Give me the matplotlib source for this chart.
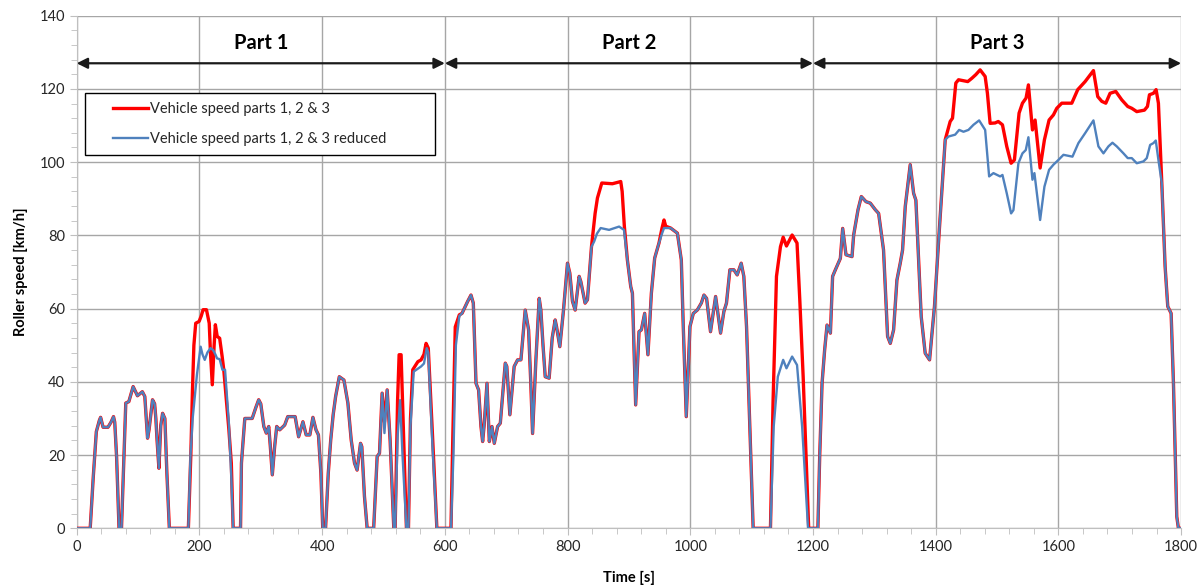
import matplotlib
matplotlib.use('Agg')
import matplotlib.pyplot as plt
from matplotlib.legend_handler import HandlerLine2D
from matplotlib.ticker import MultipleLocator

plt.rcParams['font.family'] = ['Lato', 'DejaVu Sans']

# speed trace, time [s] / speed [km/h]
red_t = [0, 22, 27, 32, 37, 39, 43, 51, 56, 60, 62, 65, 69, 73, 77, 80, 85, 92, 99, 107, 111, 115.5, 118,
         123.6, 127, 129, 131, 134, 137, 140, 143.7, 147, 151, 182, 186, 188.7, 191, 194, 199.5, 203, 206,
         211.5, 216, 218, 221, 224, 226, 229, 233, 237, 239.7, 244, 248, 252, 255, 267, 268.5, 274, 286,
         292, 296.6, 300, 305, 309, 313, 315.6, 318.8, 322.6, 326, 331, 339, 344, 356, 361.7, 368.7, 374,
         380, 385, 390, 394, 398, 401, 405.6, 410, 414, 418, 422, 428, 435.5, 442, 447.4, 452.8, 457,
         462.6, 464.7, 469, 473.4, 484, 489.7, 493.5, 497.8, 501.6, 506, 510.8, 516.8, 519, 523, 525.5,
         528.7, 531, 537.4, 540.7, 544, 547.7, 556, 561.3, 566, 569.4, 573, 580, 587,
         610, 613, 617, 623.6, 628, 637, 642.6, 646.4, 650.8, 655, 658.9, 661.6, 664, 668.7, 672.5, 676.8,
         680.6, 686, 690.4, 698.5, 701, 706, 713, 718.6, 724, 731, 736.5, 740, 743, 748.4, 753.8, 756.5,
         760, 763.6, 770, 775, 779.8, 782, 787.4, 793.4, 799.9, 803.7, 808, 812.4, 818.9, 821.6, 828.6,
         832.4, 839, 844.9, 848.7, 855.8, 873, 886.7, 889, 892.6, 897.5, 903, 905.7, 911, 916.5, 920.3,
         925.7, 931, 936.6, 942, 949, 954, 957.2, 960, 968, 979, 985.4, 988.6, 993.5, 999.5, 1005, 1011.4,
         1018, 1022.3, 1026.6, 1033, 1041.3, 1049.4, 1054.8, 1059, 1064.6, 1071, 1076.5, 1083, 1087.3,
         1091.7, 1097, 1102.5, 1130.7, 1135, 1140.5, 1147, 1151.4, 1156.8, 1166, 1174, 1178.5, 1184, 1193,
         1208, 1211, 1214.8, 1219, 1222.9, 1228.4, 1232, 1236.5, 1244.6, 1248.4, 1253.8, 1263.6, 1266.3,
         1273.4, 1278.8, 1286.4, 1293.4, 1301.6, 1307, 1315, 1321.6, 1326, 1331.4, 1336.8, 1342.2, 1346,
         1350.4, 1358.5, 1364, 1367.7, 1376.4, 1382.9, 1390, 1398, 1407.3, 1415.5, 1423.6, 1427.4, 1432.8,
         1437.2, 1452.3, 1458.9, 1465.4, 1472.4, 1480.6, 1484.3, 1488.7, 1496.8, 1502, 1508.8, 1515.8,
         1522.9, 1528.3, 1535.9, 1541.4, 1547.3, 1551.1, 1557.7, 1562, 1570.2, 1577.2, 1584.8, 1591.9,
         1597.3, 1605.5, 1621.8, 1631.5, 1643.5, 1657.1, 1664.1, 1670.7, 1677.2, 1684.2, 1693.5, 1703.3,
         1713, 1719.6, 1727.7, 1740.2, 1745.1, 1748.4, 1754.9, 1759.2, 1763, 1768.5, 1773.9, 1778.2,
         1783.7, 1787.5, 1792.9, 1795.6, 1800]
red_v = [0, 0, 14, 26.4, 29.5, 30.3, 27.6, 27.6, 29, 30.5, 29, 19.6, 0, 0, 20, 34.2, 34.6, 38.7, 36.2, 37.3,
         36, 24.6, 27, 35.1, 34, 30, 24, 16.4, 28, 31.4, 30, 15, 0, 0, 20, 37.8, 50, 56, 56.5, 58, 59.7,
         59.7, 56, 48, 39.2, 50, 55.6, 52.4, 51.9, 47, 43.3, 35, 27, 17.8, 0, 0, 17.8, 30, 30, 33, 35.1,
         34, 27.8, 26, 27.8, 22.3, 14.6, 22.3, 27.8, 26.9, 28.2, 30.5, 30.5, 25, 29.1, 25.5, 25.5, 30.3,
         26.9, 25.5, 15, 0, 0, 15, 24.1, 31, 36, 41.4, 40.5, 34.2, 24.1, 17.8, 15.9, 23.2, 22.3, 8.7, 0,
         0, 19.6, 20.5, 36.9, 29, 37.8, 24.1, 0, 0, 35, 47.4, 47.4, 35, 0, 0, 30, 43.3, 45.5, 46, 47.5,
         50.5, 49.2, 25, 0,
         0, 25, 55, 58.3, 58.7, 61.9, 63.7, 61.5, 39.6, 37.8, 27.8, 23.7, 28, 39.6, 23.7, 27.8, 23.2,
         27.8, 28.7, 45.1, 44.2, 31, 44.2, 46, 46, 59.6, 54.2, 40, 25.9, 46, 62.8, 59.6, 50, 41.4, 41,
         52, 56.9, 55.1, 49.6, 59.6, 72.4, 69.7, 62, 59.6, 68.8, 67.4, 61.5, 62.4, 76.9, 86, 90.2, 94.3,
         94.1, 94.7, 92, 82.4, 73.3, 66, 64.2, 33.7, 53.7, 54.2, 58.7, 47.4, 64.2, 73.8, 77.9, 82, 84.2,
         82.5, 82, 80.6, 73.3, 55.1, 30.5, 55.1, 58.7, 59.6, 61.5, 63.7, 62.8, 53.7, 63.3, 53.3, 59.2,
         61.5, 70.6, 70.6, 69.2, 72.4, 68.8, 55.1, 27.8, 0, 0, 35, 68.8, 76.9, 79.5, 77.1, 80.1, 77.9,
         62.4, 41.4, 0,
         0, 20, 39.6, 48.7, 55.5, 53.3, 68.8, 70.6, 73.7, 81.9, 74.7, 74.2, 80.1, 87, 90.6, 89.2, 88.8,
         87, 86, 76, 52.4, 50.5, 54.2, 67.8, 72.4, 76, 87.9, 99.3, 91.5, 89.6, 57.8, 47.8, 46, 60.6, 85.1,
         106.1, 111.1, 112, 121.6, 122.5, 122, 122.9, 123.9, 125.2, 123.4, 118.8, 110.6, 110.7, 111.1,
         110.2, 104.3, 99.7, 100.6, 113.4, 116.1, 117.5, 121.1, 108.8, 111.5, 98.4, 106.1, 111.5, 112.9,
         114.7, 116.1, 116.1, 119.8, 122, 125, 117.9, 116.6, 116.1, 118.8, 119.3, 117, 115.2, 114.7,
         113.8, 114.2, 115.2, 118.4, 118.8, 119.8, 116.1, 94.3, 71.5, 60.6, 58.7, 39.6, 3.2, 0, 0]

blue_t = [0, 22, 27, 32, 37, 39, 43, 51, 56, 60, 62, 65, 69, 73, 77, 80, 85, 92, 99, 107, 111, 115.5, 118,
          123.6, 127, 129, 131, 134, 137, 140, 143.7, 147, 151, 182, 185.4, 189, 192.5, 196, 202, 205,
          208.7, 213, 218, 222.3, 226, 228.8, 233, 237.5, 241.8, 244, 248, 252, 255, 267, 268.5, 274, 286,
          292, 296.6, 300, 305, 309, 313, 315.6, 318.8, 322.6, 326, 331, 339, 344, 356, 361.7, 368.7, 374,
          380, 385, 390, 394, 398, 401, 405.6, 410, 414, 418, 422, 428, 435.5, 442, 447.4, 452.8, 457,
          462.6, 464.7, 469, 473.4, 484, 489.7, 493.5, 497.8, 501.6, 506, 510.8, 516.8, 519, 523, 527,
          531, 537.4, 540.7, 544, 549.3, 561.3, 566, 570.5, 573, 580, 587,
          610, 614, 618, 623.6, 628, 637, 642.6, 646.4, 650.8, 655, 658.9, 661.6, 664, 668.7, 672.5, 676.8,
          680.6, 686, 690.4, 698.5, 701, 706, 713, 718.6, 724, 731, 736.5, 740, 743, 748.4, 753.8, 756.5,
          760, 763.6, 770, 775, 779.8, 782, 787.4, 793.4, 799.9, 803.7, 808, 812.4, 818.9, 821.6, 828.6,
          832.4, 839, 843.3, 848, 854, 867.7, 884, 892, 897.5, 903, 905.7, 911, 916.5, 920.3,
          925.7, 931, 936.6, 942, 949, 954, 957.2, 960, 968, 979, 985.4, 988.6, 993.5, 999.5, 1005, 1011.4,
          1018, 1022.3, 1026.6, 1033, 1041.3, 1049.4, 1054.8, 1059, 1064.6, 1071, 1076.5, 1083, 1087.3,
          1091.7, 1097, 1102.5, 1130.7, 1136, 1142.7, 1151.4, 1156.8, 1166, 1174, 1182.3, 1192,
          1208, 1211, 1214.8, 1219, 1222.9, 1228.4, 1232, 1236.5, 1244.6, 1248.4, 1253.8, 1263.6, 1266.3,
          1273.4, 1278.8, 1286.4, 1293.4, 1301.6, 1307, 1315, 1321.6, 1326, 1331.4, 1336.8, 1342.2, 1346,
          1350.4, 1358.5, 1364, 1367.7, 1376.4, 1382.9, 1390, 1398, 1407.3, 1415.5, 1420.9, 1431.7, 1438.2,
          1445.3, 1453.4, 1461.6, 1470.8, 1480.6, 1487.1, 1494.1, 1505, 1508.8, 1515.8, 1522.9, 1526.7,
          1534.8, 1541.4, 1546.8, 1551.1, 1557.7, 1560.9, 1570.2, 1577.2, 1584.8, 1591.9, 1600, 1608.2,
          1622.9, 1632.6, 1643.5, 1657.1, 1665.2, 1673.4, 1681.5, 1688.1, 1695.1, 1706, 1713, 1719.6,
          1727.7, 1738.6, 1744, 1749.5, 1754.9, 1758.7, 1763, 1768.5, 1773.9, 1778.2, 1783.7, 1787.5,
          1792.9, 1795.6, 1800]
blue_v = [0, 0, 14, 26.4, 29.5, 30.3, 27.6, 27.6, 29, 30.5, 29, 19.6, 0, 0, 20, 34.2, 34.6, 38.7, 36.2, 37.3,
          36, 24.6, 27, 35.1, 34, 30, 24, 16.4, 28, 31.4, 30, 15, 0, 0, 19.6, 30, 36, 42, 49.6, 47.5,
          46, 48, 49.2, 48.7, 47.5, 46.4, 46.2, 43.3, 43.3, 38, 28.7, 14, 0, 0, 17.8, 30, 30, 33, 35.1,
          34, 27.8, 26, 27.8, 22.3, 14.6, 22.3, 27.8, 26.9, 28.2, 30.5, 30.5, 25, 29.1, 25.5, 25.5, 30.3,
          26.9, 25.5, 15, 0, 0, 15, 24.1, 31, 36, 41.4, 40.5, 34.2, 24.1, 17.8, 15.9, 23.2, 22.3, 8.7, 0,
          0, 19.6, 20.5, 36.9, 26, 37.8, 24.1, 0, 0, 25, 35, 20, 0, 0, 28, 42.8, 44.2, 45, 49.2, 48,
          22, 0,
          0, 20, 50, 58, 58.7, 61.9, 63.7, 61.5, 39.6, 37.8, 27.8, 23.7, 28, 39.6, 23.7, 27.8, 23.2,
          27.8, 28.7, 45.1, 44.2, 31, 44.2, 46, 46, 59.6, 54.2, 40, 25.9, 46, 62.8, 59.6, 50, 41.4, 41,
          52, 56.9, 55.1, 49.6, 59.6, 72.4, 69.7, 62, 59.6, 68.8, 67.4, 61.5, 62.4, 76.9, 78.3, 80.5, 82,
          81.5, 82.4, 81.5, 73.3, 66, 64.2, 33.7, 53.7, 54.2, 58.7, 47.4, 64.2, 73.8, 77.9, 80.5, 82,
          82, 82, 80.6, 73.3, 55.1, 30.5, 55.1, 58.7, 59.6, 61.5, 63.7, 62.8, 53.7, 63.3, 53.3, 59.2,
          61.5, 70.6, 70.6, 69.2, 72.4, 68.8, 55.1, 27.8, 0, 0, 27.8, 41.4, 46, 43.7, 46.9, 44.6, 27.8, 0,
          0, 20, 39.6, 48.7, 55.5, 53.3, 68.8, 70.6, 73.7, 81.9, 74.7, 74.2, 80.1, 87, 90.6, 89.2, 88.8,
          87, 86, 76, 52.4, 50.5, 54.2, 67.8, 72.4, 76, 87.9, 99.3, 91.5, 89.6, 57.8, 47.8, 46, 60.6, 85.1,
          106.1, 107, 107.5, 108.8, 108.3, 108.8, 110.2, 111.4, 108.8, 96.1, 97, 96.1, 96.5, 91.5, 86,
          86.9, 99.7, 102.4, 103.3, 106.8, 95.2, 97, 84.2, 93.3, 97.9, 99.3, 100.6, 102, 101.5, 105.2,
          107.9, 111.4, 104.3, 102.4, 104.3, 105.3, 104.3, 102.4, 101.1, 101.1, 99.7, 100.2, 101.1,
          104.7, 105.2, 105.9, 100.6, 94.3, 71.5, 60.6, 58.7, 39.6, 3.2, 0, 0]

part_names = ['Part 1', 'Part 2', 'Part 3']
part_edges = [0, 600, 1200, 1800]

fig = plt.figure(figsize=(12.04, 5.87), dpi=100)
ax = fig.add_axes([0.0637, 0.100, 0.9173, 0.8733])

ax.plot(red_t, red_v, color='#ff0000', lw=2.4, label='Vehicle speed parts 1, 2 & 3', zorder=3)
ax.plot(blue_t, blue_v, color='#4f81bd', lw=1.7, label='Vehicle speed parts 1, 2 & 3 reduced', zorder=4)

ax.set_xlim(0, 1800)
ax.set_ylim(0, 140)
ax.xaxis.set_major_locator(MultipleLocator(200))
ax.xaxis.set_minor_locator(MultipleLocator(40))
ax.yaxis.set_major_locator(MultipleLocator(20))
ax.yaxis.set_minor_locator(MultipleLocator(4))
ax.grid(True, which='major', color='#a6a6a6', lw=1.0)
ax.set_axisbelow(True)
for s in ['top', 'right']:
    ax.spines[s].set_visible(False)
for s in ['left', 'bottom']:
    ax.spines[s].set_color('#bfbfbf')
ax.tick_params(which='both', color='#bfbfbf', direction='out', labelsize=10.5, labelcolor='#262626')
ax.tick_params(which='major', length=5)
ax.tick_params(which='minor', length=4)

ax.set_xlabel('Time [s]', fontweight='bold', fontsize=10.5, labelpad=12)
ax.set_ylabel('Roller speed [km/h]', fontweight='bold', fontsize=10.5, labelpad=8)

# part markers
for i, name in enumerate(part_names):
    ax.annotate('', xy=(part_edges[i + 1], 127), xytext=(part_edges[i], 127),
                arrowprops=dict(arrowstyle='<|-|>', color='#1a1a1a', lw=1.6,
                                mutation_scale=16, shrinkA=0, shrinkB=0),
                annotation_clip=False)
    ax.text((part_edges[i] + part_edges[i + 1]) / 2, 132.5, name, ha='center', va='center',
            fontsize=14.5, fontweight='bold')

leg = ax.legend(loc='upper left', bbox_to_anchor=(0.0075, 0.724, 0.317, 0.125), mode='expand',
                borderaxespad=0, fancybox=False, framealpha=1, edgecolor='black',
                fontsize=10.5, borderpad=0.6, labelspacing=1.1, handlelength=3.7,
                handletextpad=0.15, handler_map={plt.Line2D: HandlerLine2D(xpad=1.3)})
leg.get_frame().set_linewidth(1.0)
for t in leg.get_texts():
    t.set_color('#262626')

fig.savefig('out.png', dpi=100)
